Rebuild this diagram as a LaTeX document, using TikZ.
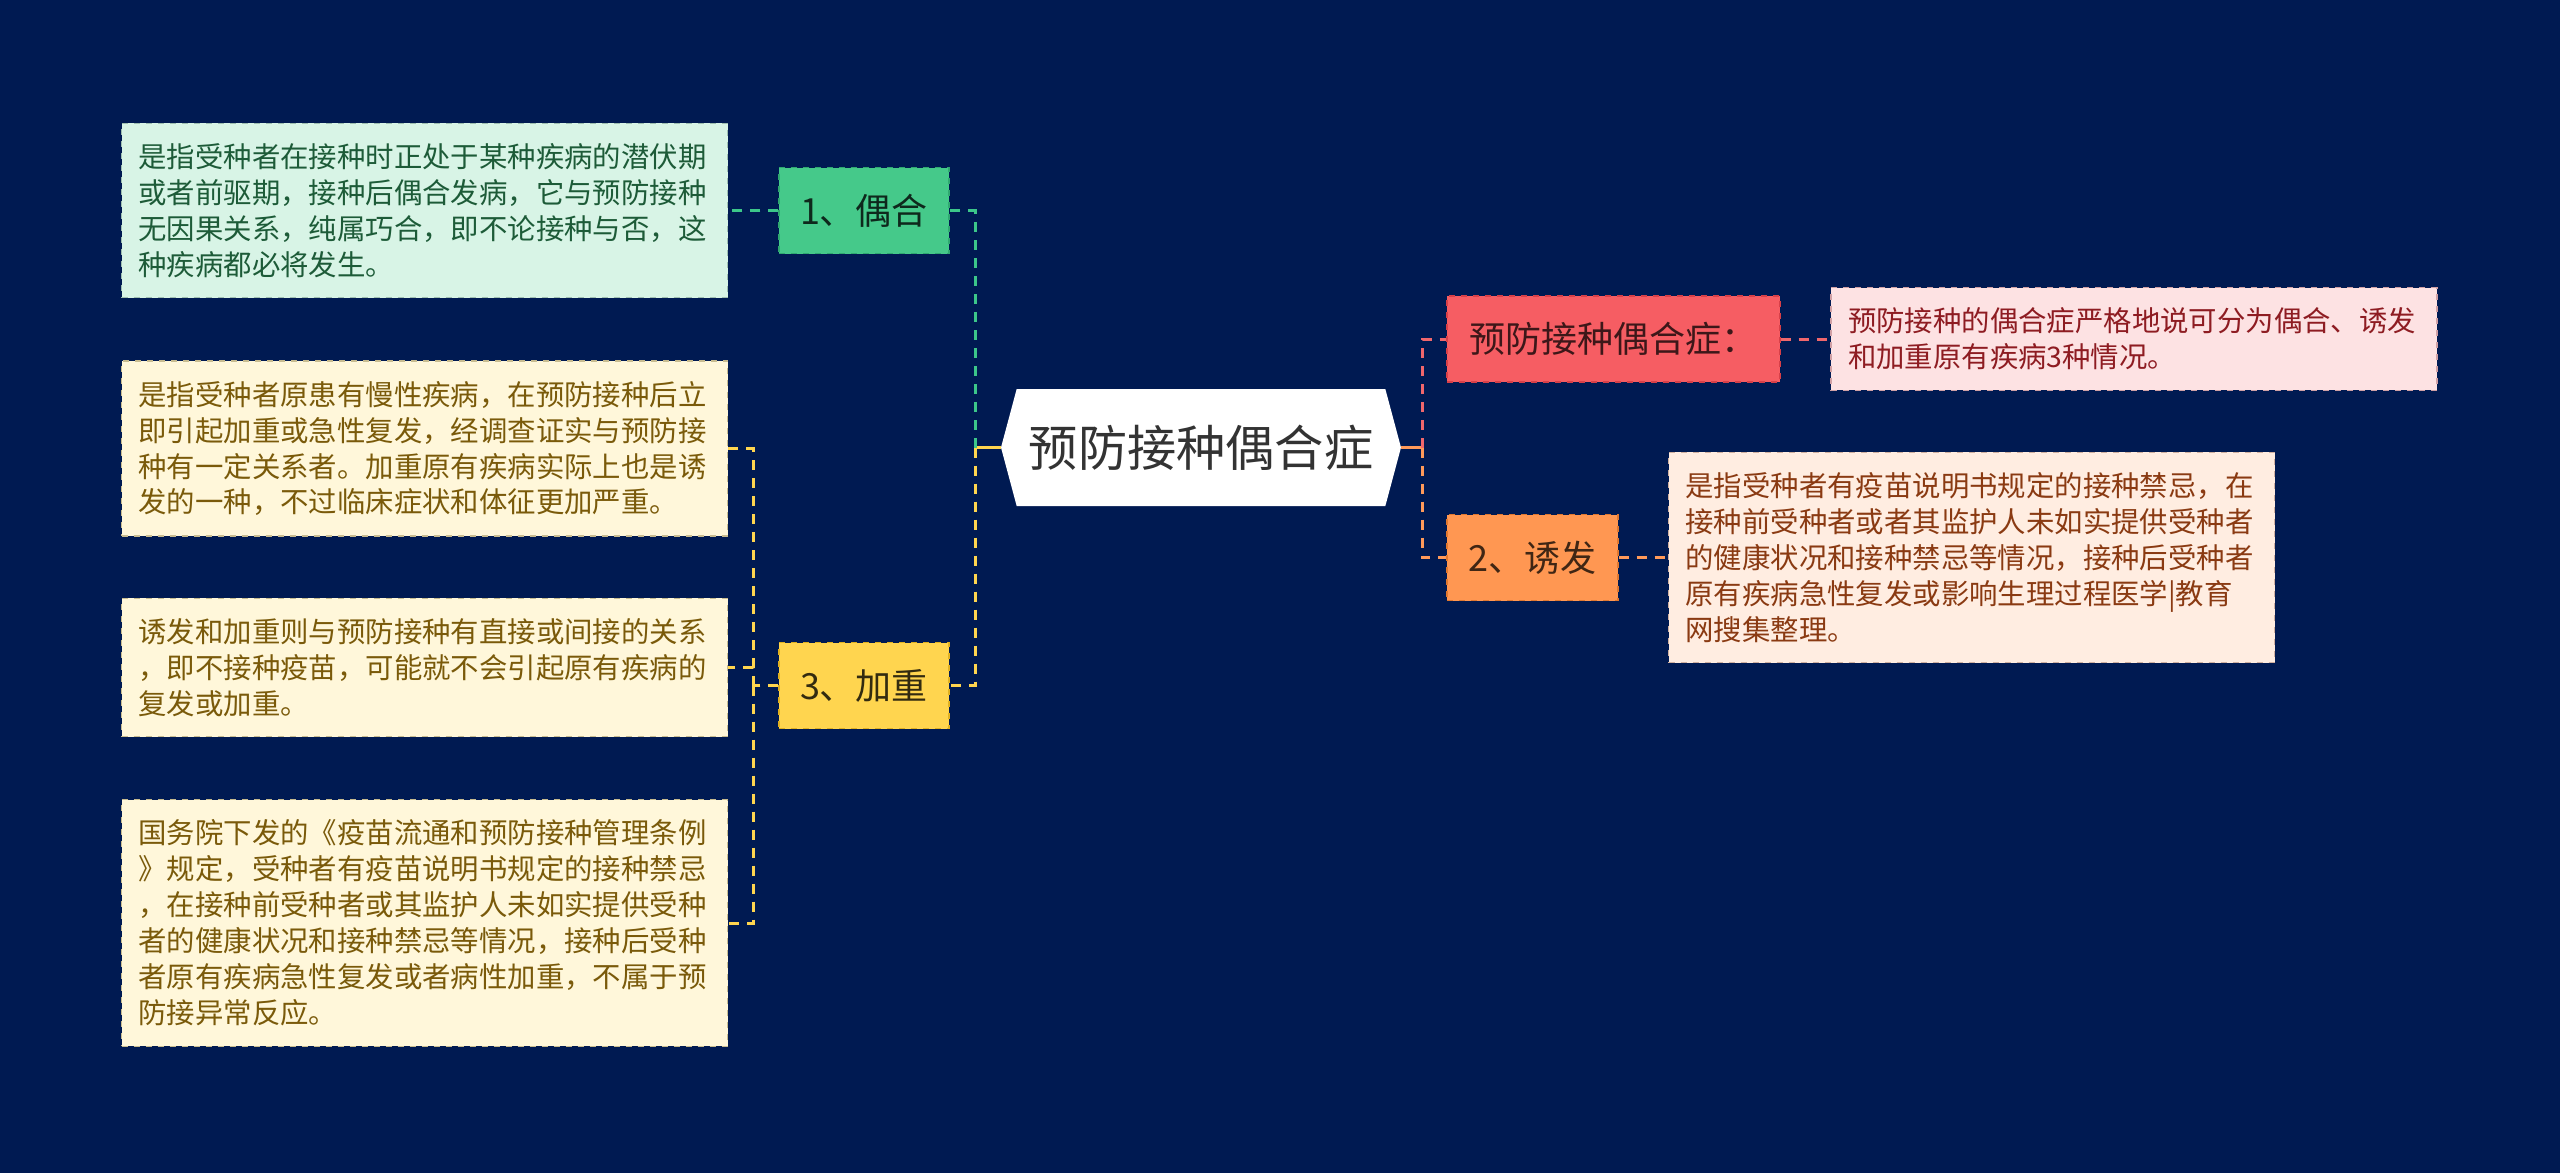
\documentclass[tikz,border=0pt]{standalone}
\usepackage{fontspec}
\setmainfont{Noto Sans CJK SC}
\usetikzlibrary{shapes.symbols}
\definecolor{bgnavy}{HTML}{001A52}
\definecolor{ouhefill}{HTML}{45C98A}
\definecolor{ouhedraw}{HTML}{2FA870}
\definecolor{ouhelight}{HTML}{D8F4E6}
\definecolor{ouhelightdraw}{HTML}{9FBFB0}
\definecolor{ouhetxt}{HTML}{1D5B38}
\definecolor{jzfill}{HTML}{FFD54F}
\definecolor{jzdraw}{HTML}{E0B020}
\definecolor{jzlight}{HTML}{FFF7DA}
\definecolor{jzlightdraw}{HTML}{C8BC90}
\definecolor{jztxt}{HTML}{7A5A0A}
\definecolor{zzfill}{HTML}{F65D63}
\definecolor{zzdraw}{HTML}{D84048}
\definecolor{zzlight}{HTML}{FDE2E3}
\definecolor{zzlightdraw}{HTML}{D0A0A5}
\definecolor{zztxt}{HTML}{8E1C22}
\definecolor{yffill}{HTML}{FF9752}
\definecolor{yfdraw}{HTML}{E07830}
\definecolor{yflight}{HTML}{FFEDE1}
\definecolor{yflightdraw}{HTML}{D0B0A0}
\definecolor{yftxt}{HTML}{8A3A12}
\definecolor{lgreen}{HTML}{3CC78A}
\definecolor{lyellow}{HTML}{FFD54F}
\definecolor{lpink}{HTML}{F0676C}
\definecolor{lorange}{HTML}{FF9A5A}
\tikzset{
  detail/.style={draw, dashed, line width=0.6pt, text width=286pt, align=left,
    inner xsep=8.5pt, inner ysep=10pt, font=\fontsize{14.2pt}{18pt}\selectfont},
  topic/.style={draw, dashed, line width=0.6pt, minimum height=43pt,
    font=\fontsize{18pt}{22pt}\selectfont},
  link/.style={line width=1.5pt, dash pattern=on 5pt off 4pt},
}
\begin{document}
\begin{tikzpicture}[x=0.5pt,y=-0.5pt]
    \fill[bgnavy] (0,0) rectangle (2560,1173);
    \useasboundingbox (0,0) rectangle (2560,1173);
    \node[shape=signal, signal to=east and west, signal pointer angle=150, fill=white,
      minimum width=200pt, minimum height=58.5pt, text=black!80,
      font=\fontsize{24.6pt}{28pt}\selectfont] (root) at (1201,447.5) {预防接种偶合症};
    \node[topic, fill=ouhefill, draw=ouhedraw, text=black!80!ouhefill, minimum width=85pt] (ouhe) at (864,210.5) {1、偶合};
    \node[topic, fill=jzfill, draw=jzdraw, text=black!80!jzfill, minimum width=85pt] (jiazhong) at (864,685.5) {3、加重};
    \node[topic, fill=zzfill, draw=zzdraw, text=black!75!zzfill, minimum width=166.5pt] (zheng) at (1613.5,339) {预防接种偶合症：};
    \node[topic, fill=yffill, draw=yfdraw, text=black!75!yffill, minimum width=85.5pt] (youfa) at (1532.5,557.5) {2、诱发};
    \node[detail, fill=ouhelight, draw=ouhelightdraw, text=ouhetxt] (ouhetext) at (424.5,210.5)
      {是指受种者在接种时正处于某种疾病的潜伏期\\或者前驱期，接种后偶合发病，它与预防接种\\无因果关系，纯属巧合，即不论接种与否，这\\种疾病都必将发生。};
    \node[detail, fill=jzlight, draw=jzlightdraw, text=jztxt] (jztext1) at (424.5,448.5)
      {是指受种者原患有慢性疾病，在预防接种后立\\即引起加重或急性复发，经调查证实与预防接\\种有一定关系者。加重原有疾病实际上也是诱\\发的一种，不过临床症状和体征更加严重。};
    \node[detail, fill=jzlight, draw=jzlightdraw, text=jztxt] (jztext2) at (424.5,667.5)
      {诱发和加重则与预防接种有直接或间接的关系\\，即不接种疫苗，可能就不会引起原有疾病的\\复发或加重。};
    \node[detail, fill=jzlight, draw=jzlightdraw, text=jztxt] (jztext3) at (424.5,923)
      {国务院下发的《疫苗流通和预防接种管理条例\\》规定，受种者有疫苗说明书规定的接种禁忌\\，在接种前受种者或其监护人未如实提供受种\\者的健康状况和接种禁忌等情况，接种后受种\\者原有疾病急性复发或者病性加重，不属于预\\防接异常反应。};
    \node[detail, fill=zzlight, draw=zzlightdraw, text=zztxt] (zhengtext) at (2134,339)
      {预防接种的偶合症严格地说可分为偶合、诱发\\和加重原有疾病3种情况。};
    \node[detail, fill=yflight, draw=yflightdraw, text=yftxt] (youfatext) at (1971.5,557.5)
      {是指受种者有疫苗说明书规定的接种禁忌，在\\接种前受种者或者其监护人未如实提供受种者\\的健康状况和接种禁忌等情况，接种后受种者\\原有疾病急性复发或影响生理过程医学|教育\\网搜集整理。};
    \coordinate (jl) at (975,447.5);
    \coordinate (jr) at (1422,447.5);
    \coordinate (jz) at (753,685.5);
    \draw[line width=1.5pt, lyellow] (jl) -- (root.west);
    \draw[link, lgreen] (jl) |- (ouhe.east);
    \draw[link, lyellow] (jl) |- (jiazhong.east);
    \draw[link, lgreen] (ouhe.west) -- (ouhetext.east);
    \draw[link, lyellow] (jiazhong.west) -- (jz);
    \foreach \t in {jztext1,jztext2,jztext3}
        \draw[link, lyellow] (jz) |- (\t.east);
    \draw[line width=1.5pt, lorange] (root.east) -- (jr);
    \draw[link, lpink] (jr) |- (zheng.west);
    \draw[link, lorange] (jr) |- (youfa.west);
    \draw[link, lpink] (zheng.east) -- (zhengtext.west);
    \draw[link, lorange] (youfa.east) -- (youfatext.west);
\end{tikzpicture}
\end{document}
